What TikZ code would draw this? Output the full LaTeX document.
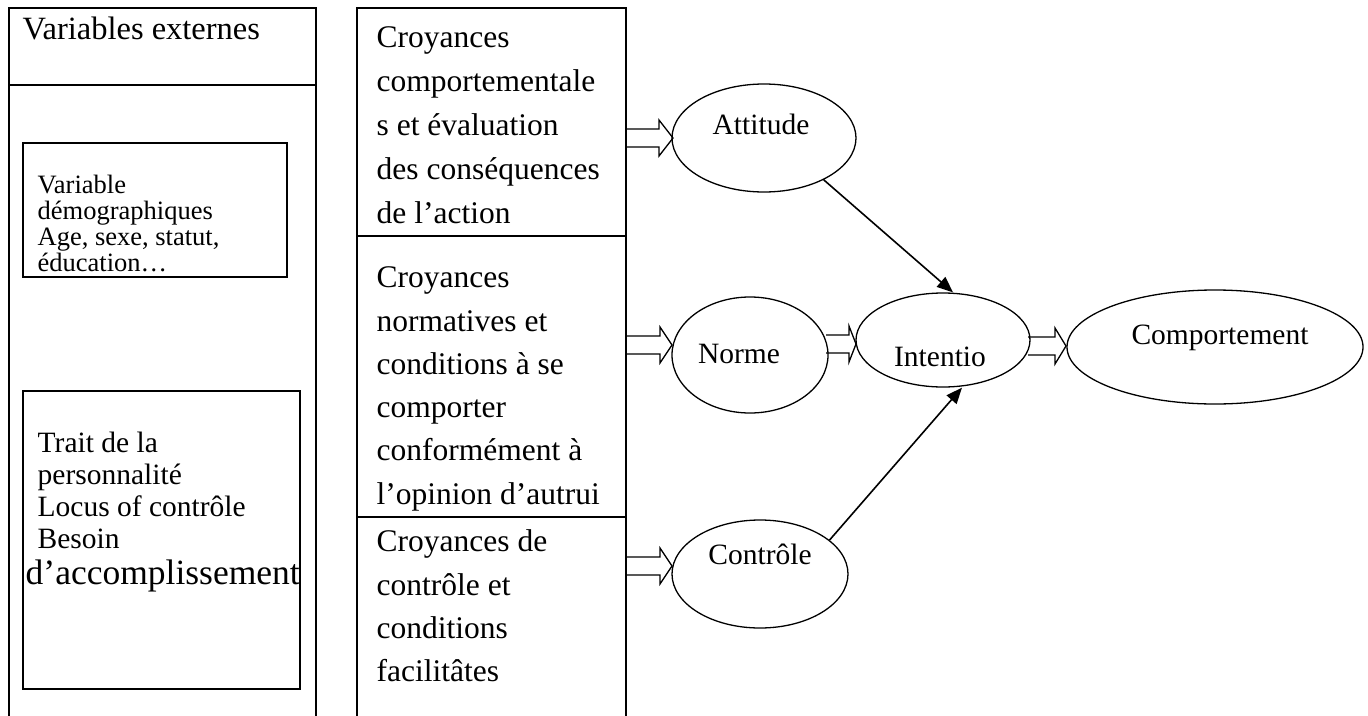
\documentclass[tikz,border=0pt]{standalone}
\usepackage{fontspec}
\setmainfont{Liberation Serif}
\usetikzlibrary{shapes.geometric,arrows.meta}
\newcommand\blockarr[4]{\draw[barrow] (#1,#3-9) -- (#4,#3-9) -- (#4,#3-18) -- (#2,#3) -- (#4,#3+18) -- (#4,#3+9) -- (#1,#3+9);}
\begin{document}
\begin{tikzpicture}[x=1pt,y=-1pt,
  line width=1.4pt,
  ell/.style={draw, ellipse, inner sep=0pt, line width=1.3pt},
  txt/.style={anchor=base west, inner sep=0pt, font=\fontsize{31.5}{37}\selectfont},
  ttl/.style={anchor=base west, inner sep=0pt, font=\fontsize{32.5}{38}\selectfont},
  dtxt/.style={anchor=base west, inner sep=0pt, font=\fontsize{26.5}{31}\selectfont},
  stxt/.style={anchor=base west, inner sep=0pt, font=\fontsize{29.5}{34}\selectfont},
  btxt/.style={anchor=base west, inner sep=0pt, font=\fontsize{35.5}{40}\selectfont},
  lbl/.style={anchor=base, inner sep=0pt, font=\fontsize{29.5}{34}\selectfont},
  barrow/.style={draw, line width=1.3pt, line join=miter},
  conn/.style={line width=1.6pt, -{Triangle[length=16pt,width=13pt]}}]
\useasboundingbox (0,0) rectangle (1368,715);
% left column
\draw (9,720) -- (9,8) -- (316,8) -- (316,720);
\draw (9,85) -- (316,85);
\draw (23,143) rectangle (287,277);
\draw (23,391) rectangle (300,689);
\node[ttl] (ve) at (22,39) {Variables externes};
\node[dtxt] (v1) at (37,193) {Variable};
\node[dtxt] (v2) at (37,219) {démographiques};
\node[dtxt] (v3) at (37,245) {Age, sexe, statut,};
\node[dtxt] (v4) at (37,271) {éducation…};
\node[stxt] (t1) at (37,452) {Trait de la};
\node[stxt] (t2) at (37,484) {personnalité};
\node[stxt] (t3) at (37,516) {Locus of contrôle};
\node[stxt] (t4) at (37,548) {Besoin};
\node[btxt] (t5) at (25,584) {d’accomplissement};
% middle column
\draw (357,720) -- (357,8) -- (626,8) -- (626,720);
\draw (357,236) -- (626,236);
\draw (357,517) -- (626,517);
\node[txt] (a1) at (376,47) {Croyances};
\node[txt] (a2) at (376,91) {comportementale};
\node[txt] (a3) at (376,135) {s et évaluation};
\node[txt] (a4) at (376,179) {des conséquences};
\node[txt] (a5) at (376,223) {de l’action};
\node[txt] (b1) at (376,287) {Croyances};
\node[txt] (b2) at (376,331) {normatives et};
\node[txt] (b3) at (376,374) {conditions à se};
\node[txt] (b4) at (376,417) {comporter};
\node[txt] (b5) at (376,460) {conformément à};
\node[txt] (b6) at (376,504) {l’opinion d’autrui};
\node[txt] (c1) at (376,551) {Croyances de};
\node[txt] (c2) at (376,595) {contrôle et};
\node[txt] (c3) at (376,638) {conditions};
\node[txt] (c4) at (376,681) {facilitâtes};
% ellipses
\node[ell, minimum width=184pt, minimum height=108pt] (att) at (764,138) {};
\node[ell, minimum width=156pt, minimum height=116pt] (nrm) at (750,355) {};
\node[ell, minimum width=174pt, minimum height=94pt] (itn) at (943,340) {};
\node[ell, minimum width=296pt, minimum height=114pt] (cmp) at (1215,347) {};
\node[ell, minimum width=176pt, minimum height=108pt] (ctl) at (760,574) {};
\node[lbl] (attl) at (761,134) {Attitude};
\node[lbl] (nrml) at (739,363) {Norme};
\node[lbl] (itnl) at (940,366) {Intentio};
\node[lbl] (cmpl) at (1220,344) {Comportement};
\node[lbl] (ctll) at (760,564) {Contrôle};
% block arrows
\blockarr{626}{673}{138}{659}
\blockarr{626}{672}{345}{660}
\blockarr{626}{672}{566}{660}
\blockarr{826}{856}{344}{849}
\blockarr{1028}{1066}{346}{1055}
% connectors
\draw[conn] (att.-35) -- ([xshift=10pt]itn.north);
\draw[conn] (ctl.26) -- ([xshift=19pt]itn.south);
\end{tikzpicture}
\end{document}
